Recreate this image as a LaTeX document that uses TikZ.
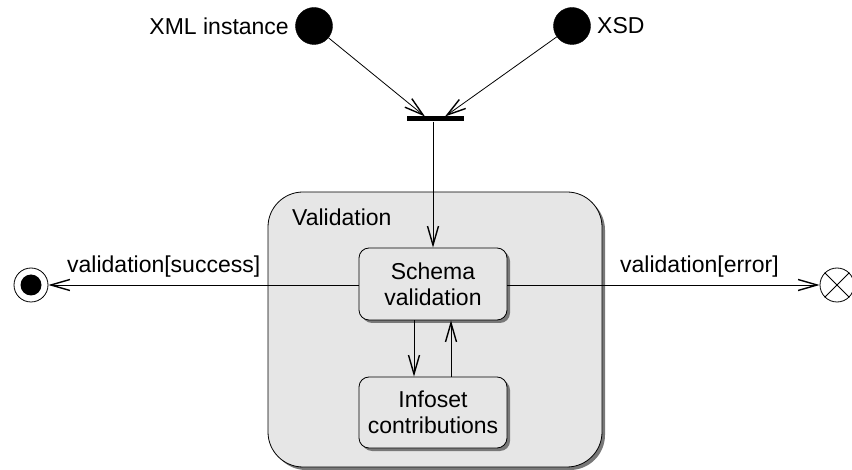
\documentclass[tikz,border=0pt]{standalone}
\usepackage{fontspec}
\setmainfont{Liberation Sans}
\usetikzlibrary{arrows.meta,shadows}
\definecolor{boxgray}{RGB}{230,230,230}
\definecolor{shadowgray}{RGB}{120,120,120}
\tikzset{
  txt/.style={font=\fontsize{23}{26}\selectfont, inner sep=0pt},
  stbox/.style={draw, line width=0.8pt, fill=boxgray, align=center,
    font=\fontsize{23}{26}\selectfont, inner sep=0pt,
    drop shadow={shadow xshift=3pt, shadow yshift=-3pt, fill=shadowgray, opacity=1}},
  flow/.style={line width=0.8pt, -{Straight Barb[length=19pt,width=11pt,line width=1.4pt]}},
  startdot/.style={circle, fill=black, draw, minimum size=37pt, inner sep=0pt},
}
\begin{document}
\begin{tikzpicture}[x=1pt,y=-1pt]
\useasboundingbox (0,0) rectangle (852,470);
% initial nodes
\node[startdot] (xml) at (314,26) {};
\node[startdot] (xsd) at (572,26) {};
\node[txt, anchor=east] (xmllbl) at (289,26) {XML instance};
\node[txt, anchor=west] (xsdlbl) at (597,26) {XSD};
% fork bar
\node[fill=black, minimum width=57pt, minimum height=5pt, inner sep=0pt] (fork) at (435,119) {};
\coordinate (forkL) at (425,116.5);
\coordinate (forkR) at (445,116.5);
% container
\node[stbox, minimum width=334pt, minimum height=275pt, rounded corners=35pt] (valid) at (435,329.5) {};
\node[txt, anchor=west] (validlbl) at (292,217) {Validation};
% inner states
\node[stbox, minimum width=148pt, minimum height=72pt, rounded corners=10pt] (schema) at (433,284) {Schema\\validation};
\node[stbox, minimum width=148pt, minimum height=71pt, rounded corners=10pt] (infoset) at (433,412.5) {Infoset\\contributions};
% final nodes
\node[circle, draw, line width=0.8pt, minimum size=34pt, inner sep=0pt] (final) at (31,285) {};
\node[circle, fill=black, minimum size=21pt, inner sep=0pt] (finaldot) at (31,285) {};
\node[circle, draw, line width=0.8pt, minimum size=34pt, inner sep=0pt] (flowfinal) at (837,285) {};
\draw[line width=0.8pt] (flowfinal.north west) -- (flowfinal.south east);
\draw[line width=0.8pt] (flowfinal.north east) -- (flowfinal.south west);
% connectors
\draw[flow] (xml) -- (forkL);
\draw[flow] (xsd) -- (forkR);
\draw[flow] (fork.south -| schema.north) -- (schema.north);
\draw[flow] ([yshift=-1pt]schema.west) -- (final.east);
\draw[flow] ([yshift=-1pt]schema.east) -- (flowfinal.west);
\draw[flow] ([xshift=-19pt]schema.south) -- ([xshift=-19pt]infoset.north);
\draw[flow] ([xshift=18pt]infoset.north) -- ([xshift=18pt]schema.south);
% labels
\node[txt, anchor=west] (succlbl) at (67,267) {validation[success]};
\node[txt, anchor=west] (errlbl) at (620,267) {validation[error]};
\end{tikzpicture}
\end{document}
